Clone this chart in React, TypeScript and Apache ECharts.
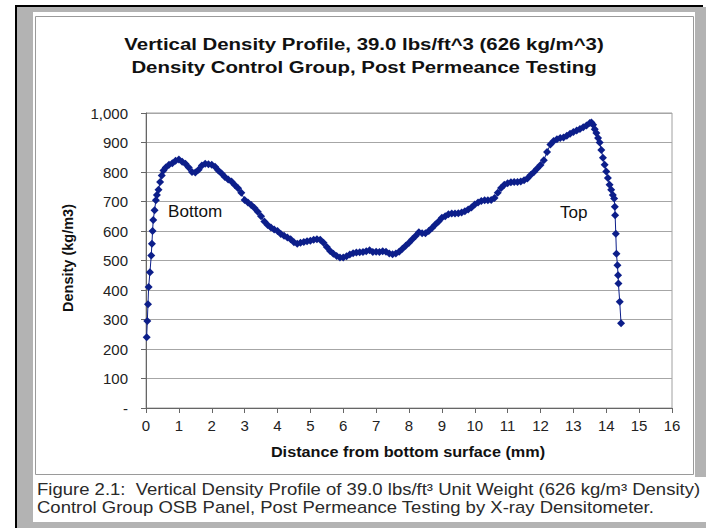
import React, { useEffect, useRef } from "react";
import * as echarts from "echarts";

const titleLines = [
  "Vertical Density Profile, 39.0 lbs/ft^3 (626 kg/m^3)",
  "Density Control Group, Post Permeance Testing",
];
const xAxisName = "Distance from bottom surface (mm)";
const yAxisName = "Density (kg/m3)";
const captionLines = [
  "Figure 2.1:  Vertical Density Profile of 39.0 lbs/ft\u00B3 Unit Weight (626 kg/m\u00B3 Density)",
  "Control Group OSB Panel, Post Permeance Testing by X-ray Densitometer.",
];
const annotations = [
  { text: "Bottom", x: 168, y: 212 },
  { text: "Top", x: 560, y: 213 },
];

// distance from bottom surface (mm)
const distanceMm = [
  0.02, 0.04, 0.06, 0.08, 0.12, 0.16, 0.18, 0.2, 0.22, 0.26, 0.3, 0.33, 0.38, 0.43, 0.48, 0.53,
  0.6, 0.7, 0.8, 0.9, 1.0, 1.1, 1.2, 1.3, 1.4, 1.5, 1.6, 1.7, 1.8, 1.9, 2.0,
  2.1, 2.2, 2.3, 2.4, 2.5, 2.6, 2.7, 2.8, 2.9, 3.0,
  3.1, 3.2, 3.3, 3.4, 3.5, 3.6, 3.7, 3.8, 3.9, 4.0,
  4.1, 4.2, 4.3, 4.4, 4.5, 4.6, 4.7, 4.8, 4.9, 5.0,
  5.1, 5.2, 5.3, 5.4, 5.5, 5.6, 5.7, 5.8, 5.9, 6.0,
  6.1, 6.2, 6.3, 6.4, 6.5, 6.6, 6.7, 6.8, 6.9, 7.0,
  7.1, 7.2, 7.3, 7.4, 7.5, 7.6, 7.7, 7.8, 7.9, 8.0,
  8.1, 8.2, 8.3, 8.4, 8.5, 8.6, 8.7, 8.8, 8.9, 9.0,
  9.1, 9.2, 9.3, 9.4, 9.5, 9.6, 9.7, 9.8, 9.9, 10.0,
  10.1, 10.2, 10.3, 10.4, 10.5, 10.6, 10.7, 10.8, 10.9, 11.0,
  11.1, 11.2, 11.3, 11.4, 11.5, 11.6, 11.7, 11.8, 11.9, 12.0,
  12.1, 12.2, 12.3, 12.4, 12.5, 12.6, 12.7, 12.8, 12.9, 13.0,
  13.1, 13.2, 13.3, 13.4, 13.5, 13.55, 13.6, 13.65, 13.7, 13.75,
  13.8, 13.85, 13.9, 13.95, 14.0, 14.05, 14.1, 14.15, 14.2, 14.24,
  14.26, 14.27, 14.29, 14.31, 14.34, 14.36, 14.37, 14.41, 14.45,
];

// density (kg/m3)
const densityKgM3 = [
  240, 295, 352, 410, 460, 517, 557, 600, 637, 670, 704, 722, 740, 766, 788, 805,
  815, 825, 830, 838, 842, 835, 828, 815, 800, 798, 808, 822, 828, 826, 825,
  818, 805, 795, 783, 775, 768, 756, 745, 730, 705,
  697, 688, 678, 665, 650, 632, 620, 612, 605, 600,
  590, 584, 578, 572, 562, 557, 560, 563, 565, 567,
  570, 572, 570, 560, 546, 532, 523, 515, 510, 510,
  514, 520, 525, 527, 528, 529, 531, 535, 529, 530,
  529, 531, 530, 524, 521, 524, 530, 540, 550, 560,
  572, 583, 596, 592, 592, 600, 610, 622, 632, 645,
  650, 657, 659, 659, 660, 663, 667, 673, 680, 690,
  697, 702, 704, 704, 705, 712, 730, 746, 757, 762,
  765, 766, 766, 768, 772, 778, 790, 800, 812, 824,
  840, 868, 893, 905, 911, 915, 917, 923, 930, 936,
  941, 946, 952, 958, 966, 968, 960, 945, 932, 915,
  900, 875, 848, 825, 802, 780, 757, 740, 722, 710,
  682, 653, 591, 523, 484, 450, 422, 360, 287,
];

const FONT = "'Liberation Sans', Arial, sans-serif";
const NAVY = "#0c1e8a";

export default function App() {
  const ref = useRef<HTMLDivElement>(null);

  useEffect(() => {
    if (!ref.current) return;
    const chart = echarts.init(ref.current, null, { renderer: "svg" });
    const seriesData = distanceMm.map((d, i) => [d, densityKgM3[i]]);

    chart.setOption({
      animation: false,
      backgroundColor: "#ffffff",
      textStyle: { fontFamily: FONT },
      grid: {
        left: 146,
        top: 113,
        right: 34,
        bottom: 120,
        show: true,
        borderColor: "#a0a0a0",
        borderWidth: 1,
        backgroundColor: "transparent",
      },
      xAxis: {
        type: "value",
        min: 0,
        max: 16,
        interval: 1,
        axisLine: { show: true, lineStyle: { color: "#666", width: 1 } },
        axisTick: { show: true, length: 5, lineStyle: { color: "#666" } },
        axisLabel: { margin: 10, fontSize: 15, color: "#222", fontFamily: FONT },
        splitLine: { show: false },
      },
      yAxis: {
        type: "value",
        min: 0,
        max: 1000,
        interval: 100,
        axisLine: { show: true, lineStyle: { color: "#666", width: 1 } },
        axisTick: { show: true, length: 5, lineStyle: { color: "#666" } },
        axisLabel: {
          margin: 18,
          fontSize: 15,
          color: "#222",
          fontFamily: FONT,
          formatter: (v: number) => (v === 0 ? "-" : v.toLocaleString("en-US")),
        },
        splitLine: { show: true, lineStyle: { color: "#a6a6a6", width: 1 } },
      },
      series: [
        {
          type: "line",
          data: seriesData,
          symbol: "diamond",
          symbolSize: 8,
          showSymbol: true,
          lineStyle: { color: NAVY, width: 1 },
          itemStyle: { color: NAVY },
          z: 5,
        },
      ],
      graphic: [
        { type: "rect", z: -20, silent: true, shape: { x: 17, y: 7, width: 689, height: 521 }, style: { fill: "#b3b3b3" } },
        { type: "rect", z: -19, silent: true, shape: { x: 33, y: 12, width: 673, height: 510 }, style: { fill: "#ffffff" } },
        { type: "rect", z: -18, silent: true, shape: { x: 695, y: 7, width: 11, height: 470 }, style: { fill: "#b3b3b3" } },
        { type: "rect", z: -17, silent: true, shape: { x: 35.5, y: 16.5, width: 658, height: 458 }, style: { fill: "#ffffff", stroke: "#9a9a9a", lineWidth: 1 } },
        { type: "rect", z: -16, silent: true, shape: { x: 15, y: 5, width: 688, height: 2 }, style: { fill: "#000000" } },
        { type: "rect", z: -16, silent: true, shape: { x: 15, y: 5, width: 2, height: 523 }, style: { fill: "#000000" } },
        ...titleLines.map((t, i) => ({
          type: "text",
          z: 10,
          x: 364,
          y: 44 + i * 23,
          scaleX: 1.2,
          style: { text: t, fontFamily: FONT, fontSize: 17, fontWeight: "bold", fill: "#111", textAlign: "center", textVerticalAlign: "middle" },
        })),
        {
          type: "text",
          z: 10,
          x: 408,
          y: 452,
          scaleX: 1.16,
          style: { text: xAxisName, fontFamily: FONT, fontSize: 14, fontWeight: "bold", fill: "#111", textAlign: "center", textVerticalAlign: "middle" },
        },
        {
          type: "text",
          z: 10,
          x: 68,
          y: 258,
          rotation: Math.PI / 2,
          style: { text: yAxisName, fontFamily: FONT, fontSize: 14.5, fontWeight: "bold", fill: "#111", textAlign: "center", textVerticalAlign: "middle" },
        },
        ...annotations.map((a) => ({
          type: "text",
          z: 10,
          x: a.x,
          y: a.y,
          scaleX: 1.07,
          style: { text: a.text, fontFamily: FONT, fontSize: 16, fill: "#111", textAlign: "left", textVerticalAlign: "middle" },
        })),
        ...captionLines.map((t, i) => ({
          type: "text",
          z: 10,
          x: 37,
          y: 489 + i * 18,
          scaleX: 1.157,
          style: { text: t, fontFamily: FONT, fontSize: 16, fill: "#2a2a2a", textAlign: "left", textVerticalAlign: "middle" },
        })),
      ],
    });

    return () => chart.dispose();
  }, []);

  return (
    <div
      ref={ref}
      style={{ position: "fixed", left: 0, top: 0, width: 706, height: 528 }}
    />
  );
}
